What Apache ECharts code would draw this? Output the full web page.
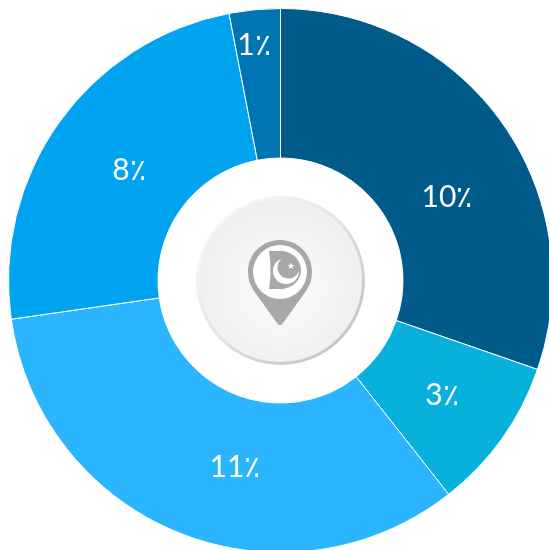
<!DOCTYPE html>
<html>
<head>
<meta charset="utf-8">
<style>
  html, body { margin: 0; padding: 0; background: #fff; overflow: hidden; }
  #pie { width: 549px; height: 550px; }
</style>
<script src="https://cdn.jsdelivr.net/npm/echarts@6/dist/echarts.min.js"></script>
</head>
<body>
<div id="pie"></div>
<script>
const categories = ['a', 'b', 'c', 'd', 'e']
const values = [10, 3, 11, 8, 1]
const sliceColors = ['#005b8a', '#07b1dc', '#2bb5ff', '#00a3ef', '#0075b4']

// label centres, hand placed like the reference
const labelSpots = [[447, 197], [442, 395], [235, 467], [129, 170], [254, 45]]

const cx = 280.5
const cy = 280.5

echarts.graphic.registerShape('pinBody', echarts.graphic.extendPath(
  'M280 240 C262 240 248 254 248 272 C248 279 250 285 254 291 L277 323 C279 326 281 326 283 323 L306 291 C310 285 312 279 312 272 C312 254 298 240 280 240 Z'
))
echarts.graphic.registerShape('flagPanel', echarts.graphic.extendPath(
  'M269 251 L281 251 C292 251 301 260 301 270 C301 280 292 289 281 289 L269 289 C271 277 271 263 269 251 Z'
))

const chart = echarts.init(document.getElementById('pie'), null, { renderer: 'canvas' })

chart.setOption({
  animation: false,
  series: [{
    type: 'pie',
    center: [cx, cy],
    radius: [122.5, 272],
    startAngle: 90,
    clockwise: true,
    silent: true,
    itemStyle: { borderColor: '#fff', borderWidth: 1 },
    label: {
      position: 'inside',
      formatter: '{c}٪',
      color: '#fff',
      fontFamily: 'Lato',
      fontSize: 30
    },
    labelLine: { show: false },
    labelLayout(params) {
      const spot = labelSpots[params.dataIndex]
      return { x: spot[0], y: spot[1], align: 'center', verticalAlign: 'middle' }
    },
    data: categories.map((name, i) => ({
      name,
      value: values[i],
      itemStyle: { color: sliceColors[i] }
    }))
  }],
  graphic: [{
    type: 'group',
    silent: true,
    children: [
      // centre button
      {
        type: 'circle',
        shape: { cx, cy, r: 83 },
        style: {
          fill: new echarts.graphic.RadialGradient(0.5, 0.55, 0.55, [
            { offset: 0, color: '#fcfcfc' },
            { offset: 1, color: '#eeeeee' }
          ]),
          stroke: new echarts.graphic.LinearGradient(0.1, 0.1, 0.9, 0.9, [
            { offset: 0, color: '#fbfbfb' },
            { offset: 0.5, color: '#e2e2e2' },
            { offset: 1, color: '#c2c2c2' }
          ]),
          lineWidth: 3
        }
      },
      // map pin
      { type: 'pinBody', style: { fill: '#a7a8aa' } },
      { type: 'circle', shape: { cx: 280, cy: 272, r: 27 }, style: { fill: '#fff' } },
      { type: 'flagPanel', style: { fill: '#a7a8aa' } },
      { type: 'circle', shape: { cx: 286, cy: 271, r: 13 }, style: { fill: '#fff' } },
      { type: 'circle', shape: { cx: 288.5, cy: 267.5, r: 11 }, style: { fill: '#a7a8aa' } },
      {
        type: 'polygon',
        shape: {
          points: [[291, 262.6], [291.9, 265], [294.3, 265], [292.4, 266.6], [293.1, 269], [291, 267.6], [288.9, 269], [289.6, 266.6], [287.7, 265], [290.1, 265]]
        },
        style: { fill: '#fff' }
      }
    ]
  }]
})
</script>
</body>
</html>
